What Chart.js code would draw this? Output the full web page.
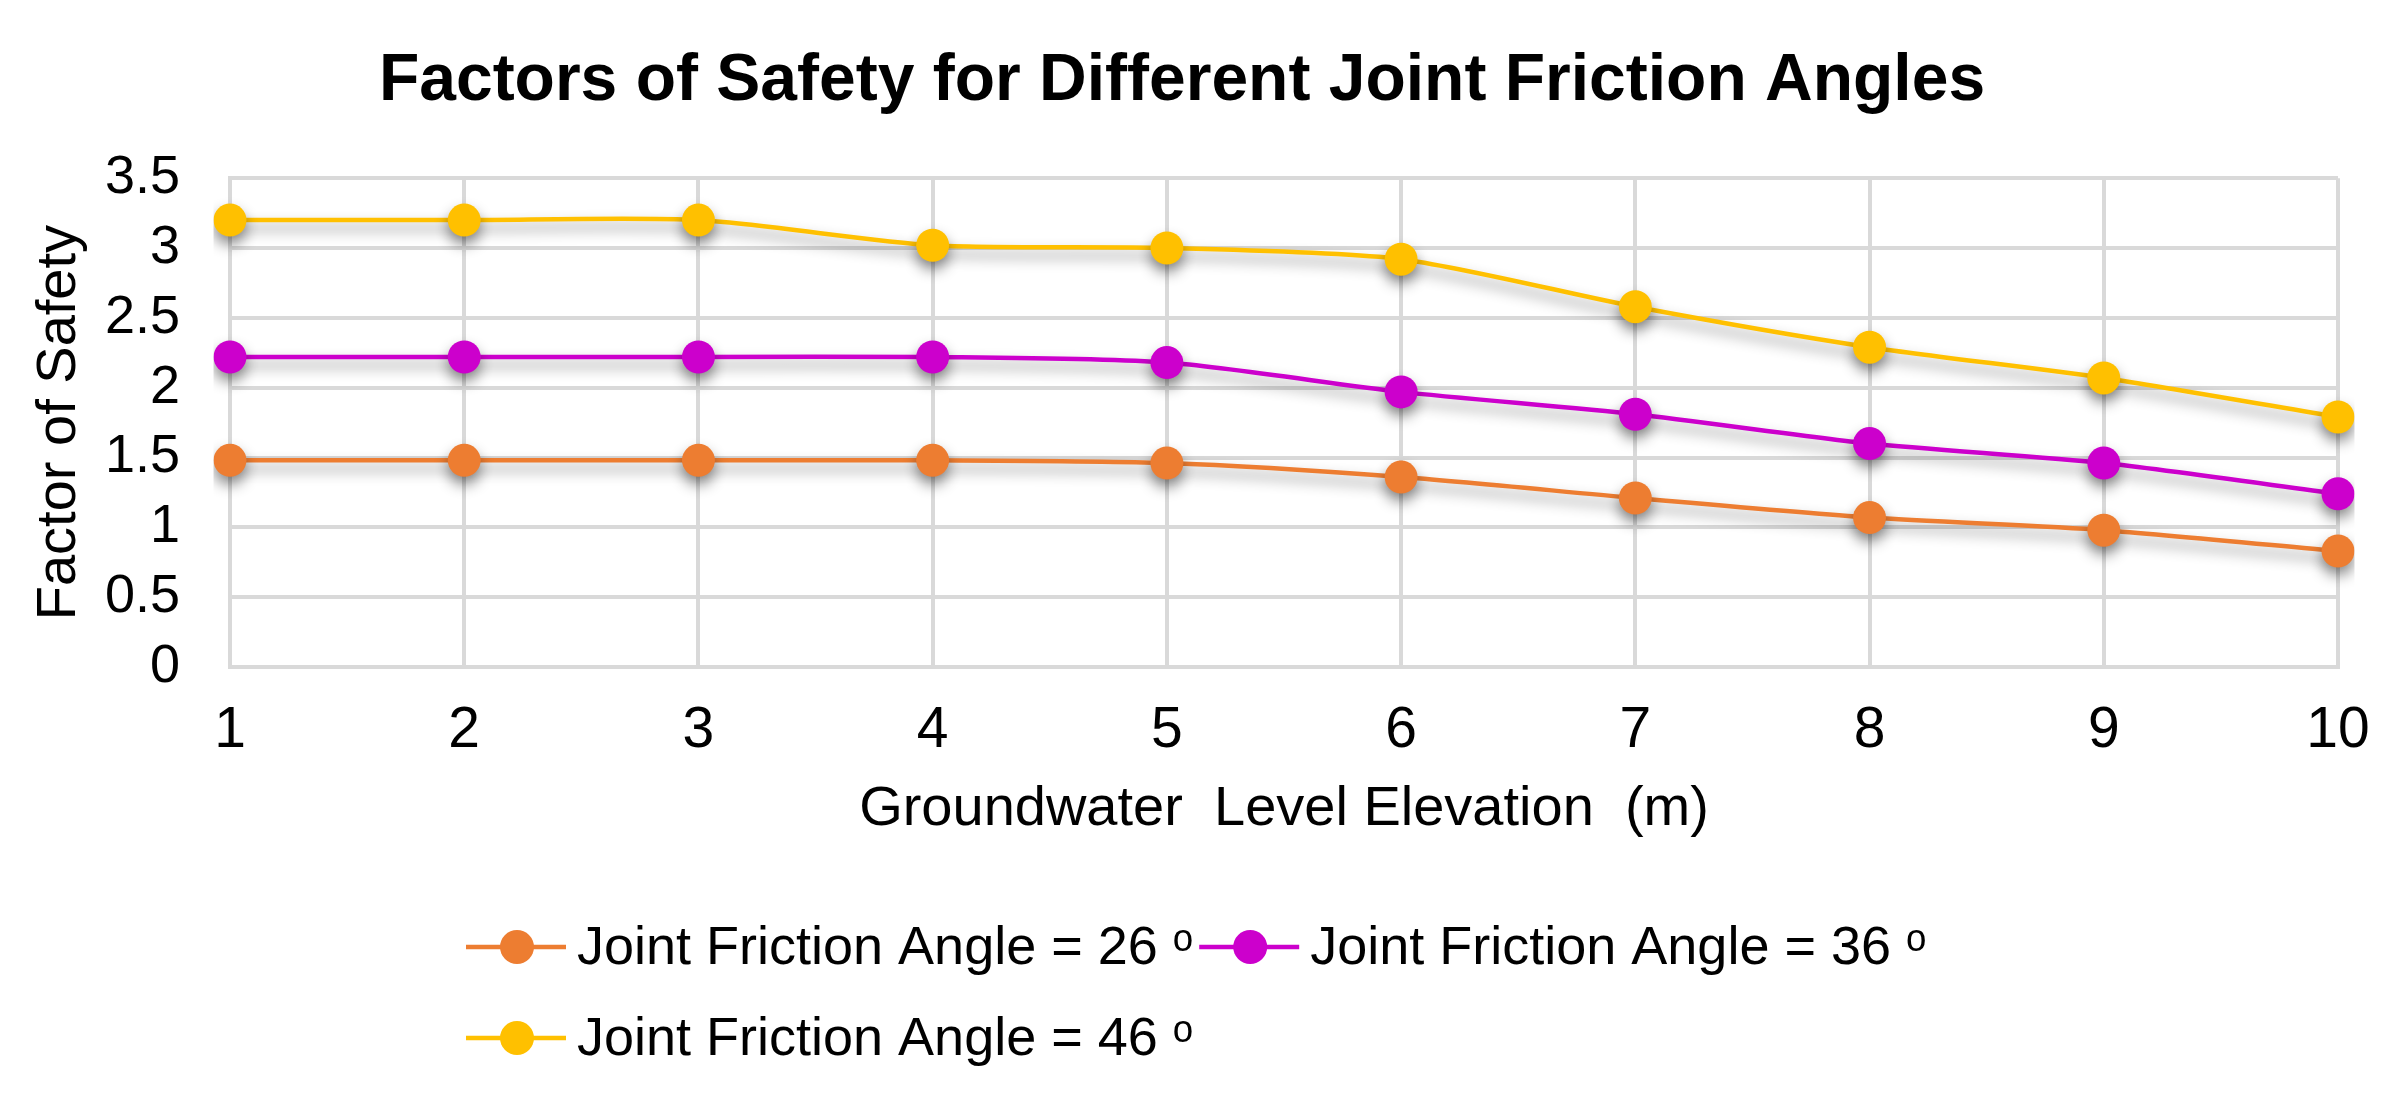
<!DOCTYPE html>
<html>
<head>
<meta charset="utf-8">
<script src="https://cdn.jsdelivr.net/npm/chart.js@4.4.1/dist/chart.umd.min.js"></script>
<style>
  body { margin: 0; background: #fff; }
  #mycanvas { display: block; }
</style>
</head>
<body>
<canvas id="mycanvas" width="2400" height="1107"></canvas>
<script>
// data
var elevation = ['1', '2', '3', '4', '5', '6', '7', '8', '9', '10'];
var fs26 = [1.48, 1.48, 1.48, 1.48, 1.46, 1.36, 1.21, 1.07, 0.98, 0.83];
var fs36 = [2.22, 2.22, 2.22, 2.22, 2.18, 1.97, 1.81, 1.60, 1.46, 1.24];
var fs46 = [3.20, 3.20, 3.20, 3.02, 3.00, 2.92, 2.58, 2.29, 2.07, 1.79];
var seriesNames = ['Joint Friction Angle = 26 ᵒ', 'Joint Friction Angle = 36 ᵒ', 'Joint Friction Angle = 46 ᵒ'];
var yTicks = [0, 0.5, 1, 1.5, 2, 2.5, 3, 3.5];
var yTickLabels = ['0', '0.5', '1', '1.5', '2', '2.5', '3', '3.5'];

var FONT = '"Liberation Sans", Arial, sans-serif';
var GRID = '#d9d9d9';

function makeSet(label, values, color) {
  return {
    label: label,
    data: values,
    borderColor: color,
    backgroundColor: color,
    borderWidth: 4.5,
    tension: 0.25,
    fill: false,
    pointRadius: 16.5,
    pointHoverRadius: 16.5,
    pointBorderWidth: 0,
    pointBackgroundColor: color
  };
}

// soft drop shadow under lines and markers, like the office chart
var shadowPlugin = {
  id: 'shadow',
  beforeDatasetsDraw: function(chart) {
    var ctx = chart.ctx;
    ctx.save();
    ctx.shadowColor = 'rgba(0,0,0,0.45)';
    ctx.shadowBlur = 14;
    ctx.shadowOffsetY = 8;
  },
  afterDatasetsDraw: function(chart) {
    chart.ctx.restore();
  }
};

// legend laid out as two rows, left aligned
var rowLegend = {
  id: 'rowLegend',
  afterDraw: function(chart) {
    var ctx = chart.ctx;
    ctx.save();
    ctx.font = '54px ' + FONT;
    ctx.textBaseline = 'middle';
    ctx.textAlign = 'left';
    var x = 466, y = 947;
    chart.data.datasets.forEach(function(ds, i) {
      if (i == 2) { x = 466; y = 1038; }
      ctx.strokeStyle = ds.borderColor;
      ctx.lineWidth = 4.5;
      ctx.beginPath();
      ctx.moveTo(x, y);
      ctx.lineTo(x + 100, y);
      ctx.stroke();
      ctx.fillStyle = ds.backgroundColor;
      ctx.beginPath();
      ctx.arc(x + 51, y, 17, 0, 2 * Math.PI);
      ctx.fill();
      ctx.fillStyle = '#000';
      ctx.fillText(ds.label, x + 111, y + 2);
      x = x + 111 + ctx.measureText(ds.label).width + 6;
    });
    ctx.restore();
  }
};

var ctx = document.getElementById('mycanvas');

var chart = new Chart(ctx, {
  type: 'line',
  data: {
    labels: elevation,
    datasets: [
      makeSet(seriesNames[0], fs26, '#ED7D31'),
      makeSet(seriesNames[1], fs36, '#CC00CC'),
      makeSet(seriesNames[2], fs46, '#FFC000')
    ]
  },
  options: {
    responsive: false,
    animation: false,
    devicePixelRatio: 1,
    layout: { padding: { top: 0, left: 26, right: 62, bottom: 264 } },
    plugins: {
      legend: { display: false },
      tooltip: { enabled: false },
      title: {
        display: true,
        text: 'Factors of Safety for Different Joint Friction Angles',
        color: '#000',
        font: { family: FONT, size: 66, weight: 'bold', lineHeight: 1.2 },
        padding: { top: 42, bottom: 57 }
      }
    },
    scales: {
      x: {
        offset: false,
        afterFit: function(axis) { axis.height = 176; },
        grid: { color: GRID, lineWidth: 4, drawTicks: false },
        border: { color: GRID, width: 4 },
        ticks: { color: '#000', padding: 30, maxRotation: 0, font: { family: FONT, size: 57 } },
        title: {
          display: true,
          text: 'Groundwater  Level Elevation  (m)',
          color: '#000',
          font: { family: FONT, size: 56, lineHeight: 1.2 },
          padding: { top: 10, bottom: 0 }
        }
      },
      y: {
        min: 0,
        max: 3.5,
        afterBuildTicks: function(axis) {
          axis.ticks = yTicks.map(function(v) { return { value: v }; });
        },
        afterFit: function(axis) { axis.width = 204; },
        grid: { color: GRID, lineWidth: 4, drawTicks: false },
        border: { color: GRID, width: 4 },
        ticks: {
          color: '#000',
          padding: 50,
          autoSkip: false,
          font: { family: FONT, size: 54 },
          callback: function(value) { return yTickLabels[yTicks.indexOf(value)]; }
        },
        title: {
          display: true,
          text: 'Factor of Safety',
          color: '#000',
          font: { family: FONT, size: 56, lineHeight: 1.2 },
          padding: { top: 0, bottom: 0 }
        }
      }
    }
  },
  plugins: [shadowPlugin, rowLegend]
});
</script>
</body>
</html>
